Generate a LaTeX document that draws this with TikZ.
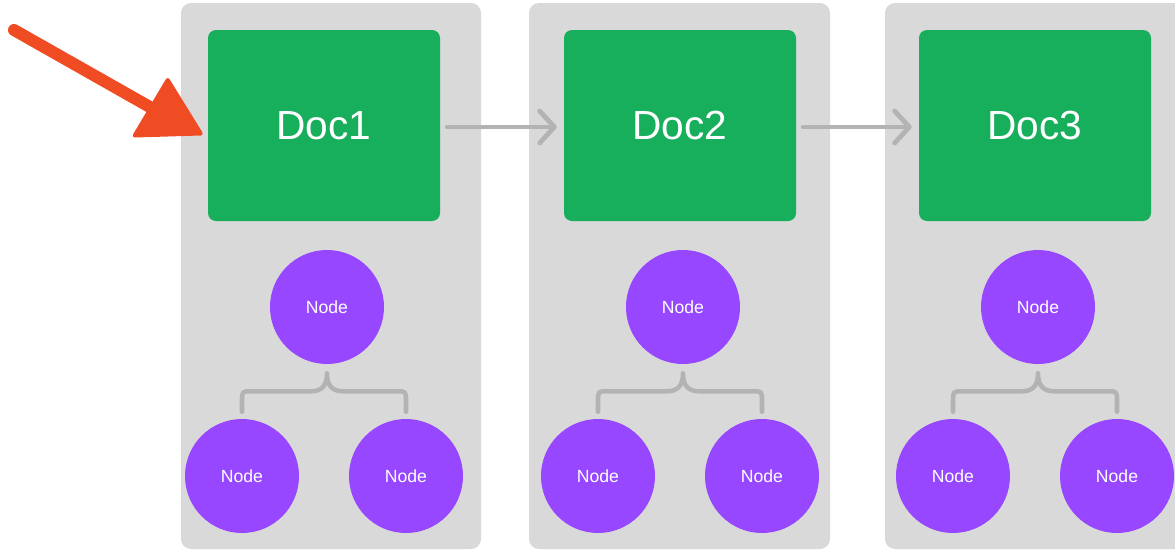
\documentclass[tikz,border=0pt]{standalone}
\usepackage{fontspec}
\setmainfont{Liberation Sans}
\usetikzlibrary{arrows.meta,calc}
\definecolor{panelgray}{HTML}{D9D9D9}
\definecolor{docgreen}{HTML}{17AE5C}
\definecolor{nodepurple}{HTML}{9747FF}
\definecolor{linkgray}{HTML}{B3B3B3}
\definecolor{pointer}{HTML}{F04C23}
\tikzset{
  panel/.style={fill=panelgray, draw=none, rounded corners=7.5pt},
  docbox/.style={fill=docgreen, draw=none, rounded corners=6pt, text=white,
    minimum width=174pt, minimum height=143.25pt, inner sep=0pt,
    font=\fontsize{30.5}{36}\selectfont},
  treenode/.style={circle, fill=nodepurple, draw=none, text=white,
    minimum size=85.5pt, inner sep=0pt, font=\fontsize{13.2}{15}\selectfont},
  flow/.style={draw=linkgray, line width=3.6pt, line cap=round,
    -{Straight Barb[length=11pt,width=24pt,line cap=round,line join=round]},
    shorten <=5.25pt, shorten >=5.25pt},
  brace/.style={draw=linkgray, line width=3.4pt, line cap=round, line join=round},
  pointerline/.style={draw=pointer, line width=9pt, line cap=round},
  pointerhead/.style={fill=pointer, draw=pointer, line width=3pt, line join=round}
}
\begin{document}
\begin{tikzpicture}[x=0.75pt,y=-0.75pt]
\clip (0,0) rectangle (1175,550);
\fill[white] (0,0) rectangle (1175,550);
% panels
\fill[panel] (181,3) rectangle (481,549);
\fill[panel] (529,3) rectangle (830,549);
\fill[panel] (885,3) rectangle (1190,549);
% doc boxes
\node[docbox] (D1) at (324,125.5) {Doc1};
\node[docbox] (D2) at (680,125.5) {Doc2};
\node[docbox] (D3) at (1035,125.5) {Doc3};
% tree nodes
\foreach \i/\dx in {1/0,2/356,3/711}{
  \node[treenode] (T\i) at (327+\dx,307) {Node};
  \node[treenode] (L\i) at (242+\dx,476) {Node};
  \node[treenode] (R\i) at (406+\dx,476) {Node};
  \coordinate (tip\i) at ($(T\i.south)+(0,9)$);
  \coordinate (bl\i) at ($(L\i.north)+(0,-7)$);
  \coordinate (br\i) at ($(R\i.north)+(0,-7)$);
  \coordinate (cl\i) at (bl\i |- tip\i);
  \coordinate (cr\i) at (br\i |- tip\i);
  \draw[brace] (bl\i) -- ($(cl\i)+(0,28)$)
    .. controls ($(cl\i)+(0,18)$) .. ($(cl\i)+(10,18)$)
    -- ($(tip\i)+(-16,18)$)
    .. controls ($(tip\i)+(-5,18)$) and ($(tip\i)+(0,12)$) .. (tip\i)
    .. controls ($(tip\i)+(0,12)$) and ($(tip\i)+(5,18)$) .. ($(tip\i)+(16,18)$)
    -- ($(cr\i)+(-10,18)$)
    .. controls ($(cr\i)+(0,18)$) .. ($(cr\i)+(0,28)$)
    -- (br\i);
}
% flow arrows
\draw[flow] ($(D1.east)+(0,1.5)$) -- ($(D2.west)+(0,1.5)$);
\draw[flow] ($(D2.east)+(0,1.5)$) -- ($(D3.west)+(0,1.5)$);
% pointer arrow
\coordinate (ptrstart) at (14,30);
\coordinate (ptrtip) at ($(D1.west)+(-7,8)$);
\coordinate (ptrc1) at ($(D1.west)+(-40,-45.5)$);
\coordinate (ptrc2) at ($(D1.west)+(-73,10)$);
\coordinate (ptrbase) at ($(ptrc1)!0.5!(ptrc2)$);
\draw[pointerline] (ptrstart) -- (ptrbase);
\filldraw[pointerhead] (ptrtip) -- (ptrc1) -- (ptrc2) -- cycle;
\end{tikzpicture}
\end{document}
